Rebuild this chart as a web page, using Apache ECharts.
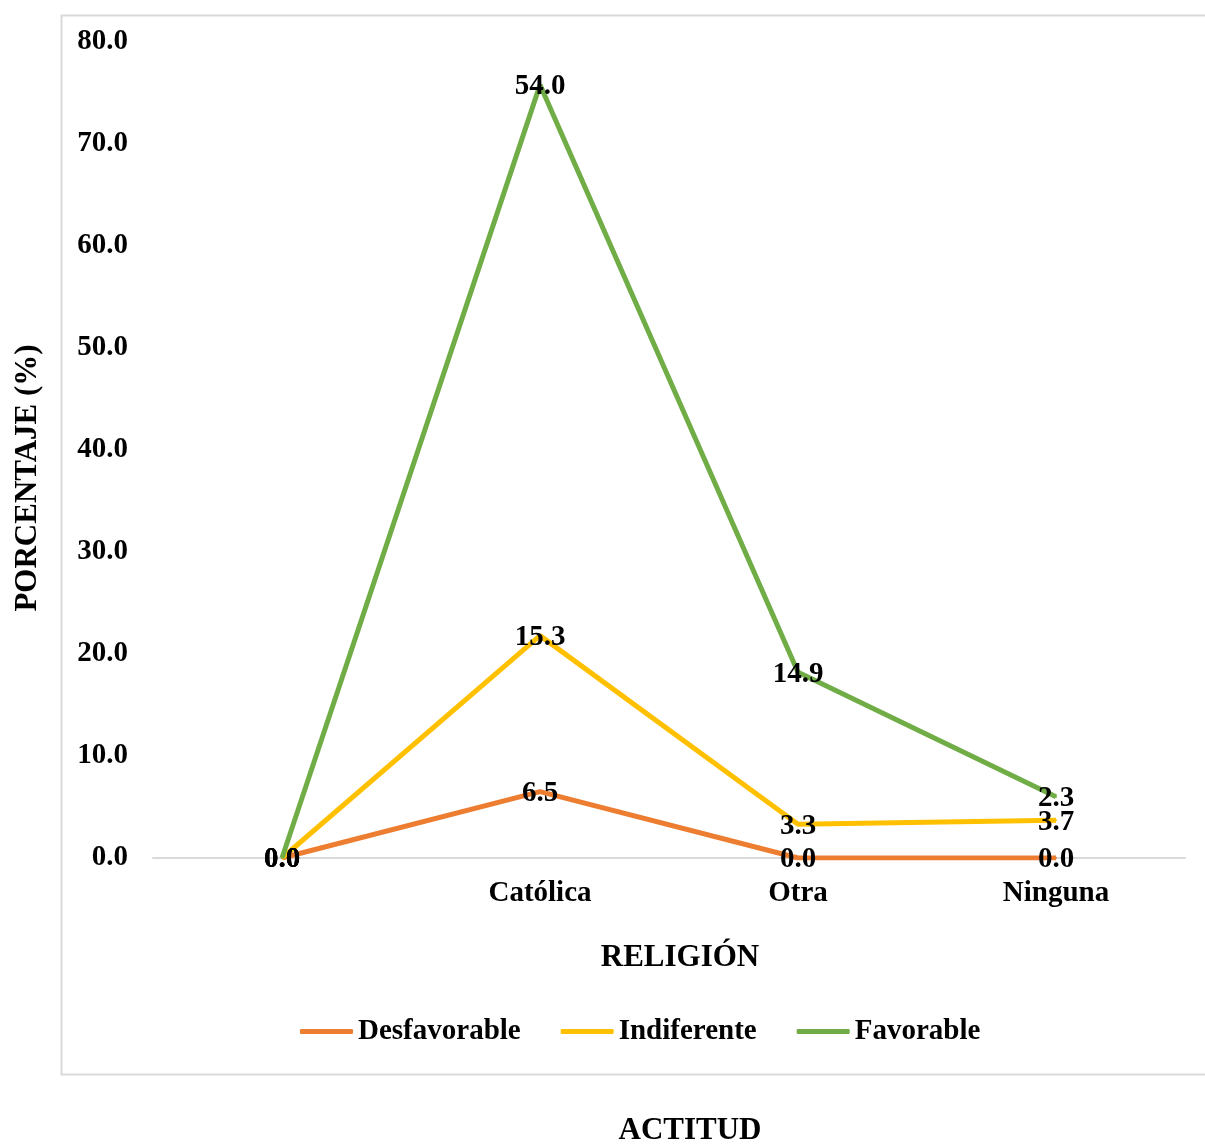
<!DOCTYPE html>
<html><head><meta charset="utf-8">
<script src="https://cdn.jsdelivr.net/npm/echarts@6/dist/echarts.min.js"></script>
<style>html,body{margin:0;padding:0;background:#fff}#c{width:1205px;height:1146px}</style>
</head><body><div id="c"></div>
<script>
const categories = ['', 'Católica', 'Otra', 'Ninguna'];
const desfavorable = [0.0, 6.5, 0.0, 0.0];
const indiferente = [0.0, 15.3, 3.3, 3.7];
const favorable = [0.0, 54.0, 14.9, 2.3];
const seriesNames = ['Desfavorable', 'Indiferente', 'Favorable'];
const colors = ['#ED7D31', '#FFC000', '#70AD47'];

const FONT = '"Liberation Serif", "Times New Roman", serif';
const chart = echarts.init(document.getElementById('c'), null, {renderer: 'canvas'});
function mk(name, data, color) {
  return {
    name, type: 'line', stack: 'total', data,
    symbol: 'circle', symbolSize: 2, showSymbol: true,
    itemStyle: {color},
    lineStyle: {color, width: 5},
    label: {
      show: true, position: 'inside', color: '#000', offset: [0, 2],
      fontFamily: FONT, fontWeight: 'bold', fontSize: 29,
      formatter: p => Number(p.value).toFixed(1)
    },
    emphasis: {disabled: true},
    animation: false
  };
}
chart.setOption({
  animation: false,
  backgroundColor: '#fff',
  textStyle: {fontFamily: FONT},
  grid: {left: 153, right: 20, top: 42, bottom: 288},
  xAxis: {
    type: 'category', data: categories, boundaryGap: true,
    axisLine: {lineStyle: {color: '#d9d9d9', width: 2}},
    axisTick: {show: false},
    axisLabel: {color: '#000', fontFamily: FONT, fontWeight: 'bold', fontSize: 29, margin: 21},
    name: 'RELIGIÓN', nameLocation: 'middle', nameGap: 84,
    nameTextStyle: {color: '#000', fontFamily: FONT, fontWeight: 'bold', fontSize: 31, padding: [0, 0, 0, 22]}
  },
  yAxis: {
    type: 'value', min: 0, max: 80, interval: 10,
    axisLine: {show: false}, axisTick: {show: false},
    splitLine: {show: false},
    axisLabel: {color: '#000', fontFamily: FONT, fontWeight: 'bold', fontSize: 29, margin: 25,
      formatter: v => v.toFixed(1)}
  },
  legend: {
    bottom: 95, left: 295,
    itemWidth: 53, itemHeight: 5, itemGap: 40,
    icon: 'roundRect',
    textStyle: {color: '#000', fontFamily: FONT, fontWeight: 'bold', fontSize: 29, padding: [0, 0, 0, 0]},
    data: seriesNames
  },
  graphic: [
    {type: 'rect', left: 59, top: 13, shape: {width: 1160, height: 1059},
      style: {fill: 'none', stroke: '#d9d9d9', lineWidth: 2}, silent: true, z: -10},
    {type: 'text', x: 28, y: 478, rotation: Math.PI / 2,
      style: {text: 'PORCENTAJE (%)', fill: '#000', font: 'bold 31px ' + FONT,
        textAlign: 'center', textVerticalAlign: 'middle'}, silent: true},
    {type: 'text', x: 690, y: 1131,
      style: {text: 'ACTITUD', fill: '#000', font: 'bold 31px ' + FONT,
        textAlign: 'center', textVerticalAlign: 'middle'}, silent: true}
  ],
  series: [
    mk(seriesNames[0], desfavorable, colors[0]),
    mk(seriesNames[1], indiferente, colors[1]),
    mk(seriesNames[2], favorable, colors[2])
  ]
});
</script></body></html>
